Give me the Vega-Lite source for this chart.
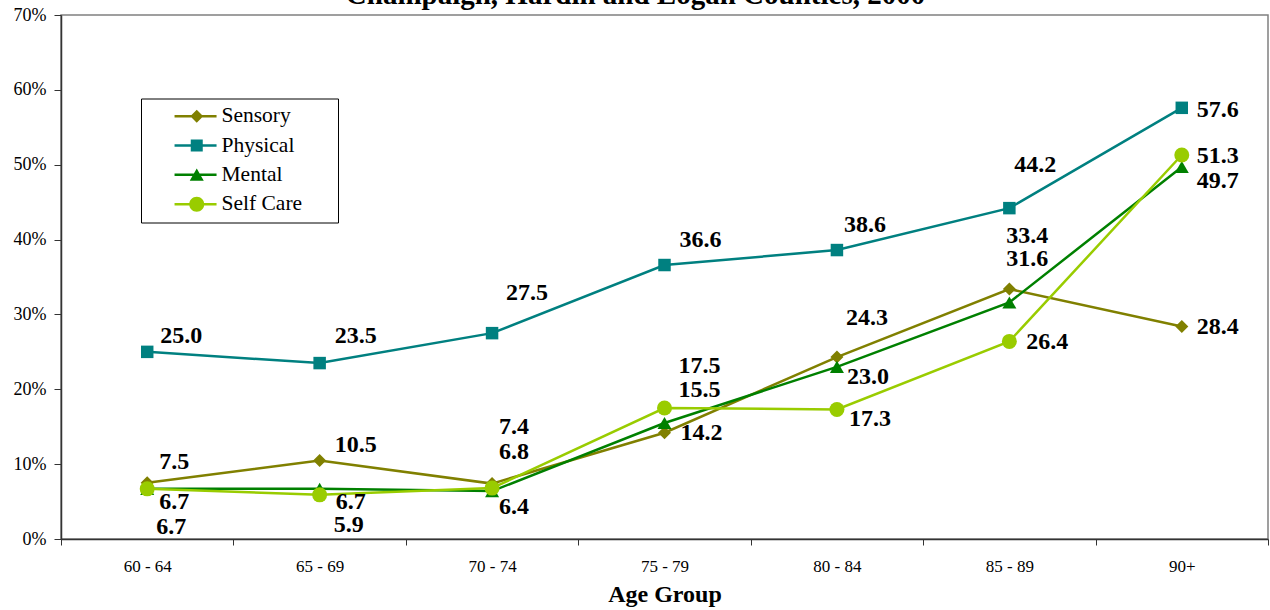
{
  "$schema": "https://vega.github.io/schema/vega-lite/v6.json",
  "autosize": {"type": "none"},
  "width": 1207,
  "height": 524,
  "padding": {"left": 61, "top": 15, "right": 2, "bottom": 71},
  "background": "white",
  "config": {
    "view": {"stroke": "#808080", "strokeWidth": 1.5},
    "axis": {"labelFont": "Liberation Serif", "labelColor": "black", "titleFont": "Liberation Serif", "titleColor": "black", "domainColor": "#333", "tickColor": "#333", "domainWidth": 1.5, "tickWidth": 1, "grid": false}
  },
  "data": {"values": [
    {"a": "60 - 64", "s": "Sensory", "v": 7.5},
    {"a": "65 - 69", "s": "Sensory", "v": 10.5},
    {"a": "70 - 74", "s": "Sensory", "v": 7.4},
    {"a": "75 - 79", "s": "Sensory", "v": 14.2},
    {"a": "80 - 84", "s": "Sensory", "v": 24.3},
    {"a": "85 - 89", "s": "Sensory", "v": 33.4},
    {"a": "90+", "s": "Sensory", "v": 28.4},
    {"a": "60 - 64", "s": "Physical", "v": 25.0},
    {"a": "65 - 69", "s": "Physical", "v": 23.5},
    {"a": "70 - 74", "s": "Physical", "v": 27.5},
    {"a": "75 - 79", "s": "Physical", "v": 36.6},
    {"a": "80 - 84", "s": "Physical", "v": 38.6},
    {"a": "85 - 89", "s": "Physical", "v": 44.2},
    {"a": "90+", "s": "Physical", "v": 57.6},
    {"a": "60 - 64", "s": "Mental", "v": 6.7},
    {"a": "65 - 69", "s": "Mental", "v": 6.7},
    {"a": "70 - 74", "s": "Mental", "v": 6.4},
    {"a": "75 - 79", "s": "Mental", "v": 15.5},
    {"a": "80 - 84", "s": "Mental", "v": 23.0},
    {"a": "85 - 89", "s": "Mental", "v": 31.6},
    {"a": "90+", "s": "Mental", "v": 49.7},
    {"a": "60 - 64", "s": "Self Care", "v": 6.7},
    {"a": "65 - 69", "s": "Self Care", "v": 5.9},
    {"a": "70 - 74", "s": "Self Care", "v": 6.8},
    {"a": "75 - 79", "s": "Self Care", "v": 17.5},
    {"a": "80 - 84", "s": "Self Care", "v": 17.3},
    {"a": "85 - 89", "s": "Self Care", "v": 26.4},
    {"a": "90+", "s": "Self Care", "v": 51.3}
  ]},
  "encoding": {
    "x": {"field": "a", "type": "nominal", "sort": ["60 - 64", "65 - 69", "70 - 74", "75 - 79", "80 - 84", "85 - 89", "90+"],
      "scale": {"type": "band", "paddingInner": 0, "paddingOuter": 0},
      "axis": {"title": "Age Group", "titleFontSize": 24, "titleFontWeight": "bold", "titlePadding": 8, "labelFontSize": 17, "labelAngle": 0, "tickBand": "extent", "tickSize": 6, "labelPadding": 13}},
    "y": {"field": "v", "type": "quantitative", "scale": {"domain": [0, 70], "nice": false},
      "axis": {"title": "Champaign, Hardin and Logan Counties, 2000", "titleAngle": 0, "titleX": 574, "titleY": -11.5, "titleAlign": "center", "titleBaseline": "alphabetic", "titleFontSize": 29, "titleFontWeight": "bold",
        "values": [0, 10, 20, 30, 40, 50, 60, 70], "labelExpr": "datum.value + '%'", "labelFontSize": 18, "tickSize": 7, "labelPadding": 8}}
  },
  "layer": [
    {"transform": [{"filter": "datum.s == 'Sensory'"}], "mark": {"type": "line", "color": "#808000", "strokeWidth": 2.5}},
    {"transform": [{"filter": "datum.s == 'Physical'"}], "mark": {"type": "line", "color": "#008080", "strokeWidth": 2.5}},
    {"transform": [{"filter": "datum.s == 'Mental'"}], "mark": {"type": "line", "color": "#008000", "strokeWidth": 2.5}},
    {"transform": [{"filter": "datum.s == 'Self Care'"}], "mark": {"type": "line", "color": "#99CC00", "strokeWidth": 2.5}},
    {"transform": [{"filter": "datum.s == 'Sensory'"}], "mark": {"type": "point", "shape": "diamond", "filled": true, "opacity": 1, "color": "#808000", "size": 169}},
    {"transform": [{"filter": "datum.s == 'Physical'"}], "mark": {"type": "point", "shape": "square", "filled": true, "opacity": 1, "color": "#008080", "size": 156}},
    {"transform": [{"filter": "datum.s == 'Mental'"}], "mark": {"type": "point", "shape": "triangle-up", "filled": true, "opacity": 1, "color": "#008000", "size": 196}},
    {"transform": [{"filter": "datum.s == 'Self Care'"}], "mark": {"type": "point", "shape": "circle", "filled": true, "opacity": 1, "color": "#99CC00", "size": 225}},
    {"mark": {"type": "point", "filled": true, "opacity": 0, "size": 144},
      "encoding": {
        "color": {"field": "s", "type": "nominal", "scale": {"domain": ["Sensory", "Physical", "Mental", "Self Care"], "range": ["#808000", "#008080", "#008000", "#99CC00"]},
          "legend": {"orient": "none", "legendX": 80, "legendY": 83.5, "title": "MM", "titleOrient": "right", "titleFontSize": 12, "titleColor": "rgba(0,0,0,0)", "titlePadding": 9, "padding": 7, "strokeColor": "#000", "fillColor": "#fff", "labelFont": "Liberation Serif", "labelFontSize": 21.5, "labelColor": "black", "symbolSize": 144, "symbolOffset": 38, "labelOffset": 14, "rowPadding": 6.3, "symbolOpacity": 1, "symbolStrokeWidth": 0}},
        "shape": {"field": "s", "type": "nominal", "scale": {"domain": ["Sensory", "Physical", "Mental", "Self Care"], "range": [
          "M-3.7,-0.21H3.3V0.21H-3.7Z M0,-1.08L1.08,0L0,1.08L-1.08,0Z",
          "M-3.7,-0.21H3.3V0.21H-3.7Z M-1,-1H1V1H-1Z",
          "M-3.7,-0.21H3.3V0.21H-3.7Z M0,-1.05L1.17,1H-1.17Z",
          "M-3.7,-0.21H3.3V0.21H-3.7Z M-1.25,0A1.25,1.25 0 1,1 1.25,0A1.25,1.25 0 1,1 -1.25,0Z"
        ]},
          "legend": {"orient": "none", "legendX": 80, "legendY": 83.5, "title": "MM", "titleOrient": "right", "titleFontSize": 12, "titleColor": "rgba(0,0,0,0)", "titlePadding": 9, "padding": 7, "strokeColor": "#000", "fillColor": "#fff", "labelFont": "Liberation Serif", "labelFontSize": 21.5, "labelColor": "black", "symbolSize": 144, "symbolOffset": 38, "labelOffset": 14, "rowPadding": 6.3, "symbolOpacity": 1, "symbolStrokeWidth": 0}}
      }},
    {"encoding": {"text": {"field": "v", "type": "quantitative", "format": ".1f"}},
      "layer": [
        {"transform": [{"filter": "datum.s == 'Physical' && datum.a == '60 - 64'"}], "mark": {"type": "text", "dx": 34, "dy": -16, "font": "Liberation Serif", "fontSize": 24, "fontWeight": "bold", "color": "black"}},
        {"transform": [{"filter": "datum.s == 'Physical' && datum.a == '65 - 69'"}], "mark": {"type": "text", "dx": 36, "dy": -27, "font": "Liberation Serif", "fontSize": 24, "fontWeight": "bold", "color": "black"}},
        {"transform": [{"filter": "datum.s == 'Physical' && datum.a == '70 - 74'"}], "mark": {"type": "text", "dx": 35, "dy": -40, "font": "Liberation Serif", "fontSize": 24, "fontWeight": "bold", "color": "black"}},
        {"transform": [{"filter": "datum.s == 'Physical' && datum.a == '75 - 79'"}], "mark": {"type": "text", "dx": 36, "dy": -25, "font": "Liberation Serif", "fontSize": 24, "fontWeight": "bold", "color": "black"}},
        {"transform": [{"filter": "datum.s == 'Physical' && datum.a == '80 - 84'"}], "mark": {"type": "text", "dx": 28, "dy": -25, "font": "Liberation Serif", "fontSize": 24, "fontWeight": "bold", "color": "black"}},
        {"transform": [{"filter": "datum.s == 'Physical' && datum.a == '85 - 89'"}], "mark": {"type": "text", "dx": 26, "dy": -43, "font": "Liberation Serif", "fontSize": 24, "fontWeight": "bold", "color": "black"}},
        {"transform": [{"filter": "datum.s == 'Physical' && datum.a == '90+'"}], "mark": {"type": "text", "dx": 36, "dy": 2, "font": "Liberation Serif", "fontSize": 24, "fontWeight": "bold", "color": "black"}},
        {"transform": [{"filter": "datum.s == 'Sensory' && datum.a == '60 - 64'"}], "mark": {"type": "text", "dx": 27, "dy": -21, "font": "Liberation Serif", "fontSize": 24, "fontWeight": "bold", "color": "black"}},
        {"transform": [{"filter": "datum.s == 'Sensory' && datum.a == '65 - 69'"}], "mark": {"type": "text", "dx": 36, "dy": -15, "font": "Liberation Serif", "fontSize": 24, "fontWeight": "bold", "color": "black"}},
        {"transform": [{"filter": "datum.s == 'Sensory' && datum.a == '70 - 74'"}], "mark": {"type": "text", "dx": 22, "dy": -57, "font": "Liberation Serif", "fontSize": 24, "fontWeight": "bold", "color": "black"}},
        {"transform": [{"filter": "datum.s == 'Sensory' && datum.a == '75 - 79'"}], "mark": {"type": "text", "dx": 37, "dy": 0, "font": "Liberation Serif", "fontSize": 24, "fontWeight": "bold", "color": "black"}},
        {"transform": [{"filter": "datum.s == 'Sensory' && datum.a == '80 - 84'"}], "mark": {"type": "text", "dx": 30, "dy": -39, "font": "Liberation Serif", "fontSize": 24, "fontWeight": "bold", "color": "black"}},
        {"transform": [{"filter": "datum.s == 'Sensory' && datum.a == '85 - 89'"}], "mark": {"type": "text", "dx": 18, "dy": -53, "font": "Liberation Serif", "fontSize": 24, "fontWeight": "bold", "color": "black"}},
        {"transform": [{"filter": "datum.s == 'Sensory' && datum.a == '90+'"}], "mark": {"type": "text", "dx": 36, "dy": 1, "font": "Liberation Serif", "fontSize": 24, "fontWeight": "bold", "color": "black"}},
        {"transform": [{"filter": "datum.s == 'Mental' && datum.a == '60 - 64'"}], "mark": {"type": "text", "dx": 27, "dy": 13, "font": "Liberation Serif", "fontSize": 24, "fontWeight": "bold", "color": "black"}},
        {"transform": [{"filter": "datum.s == 'Mental' && datum.a == '65 - 69'"}], "mark": {"type": "text", "dx": 31, "dy": 13, "font": "Liberation Serif", "fontSize": 24, "fontWeight": "bold", "color": "black"}},
        {"transform": [{"filter": "datum.s == 'Mental' && datum.a == '70 - 74'"}], "mark": {"type": "text", "dx": 22, "dy": 16, "font": "Liberation Serif", "fontSize": 24, "fontWeight": "bold", "color": "black"}},
        {"transform": [{"filter": "datum.s == 'Mental' && datum.a == '75 - 79'"}], "mark": {"type": "text", "dx": 35, "dy": -33, "font": "Liberation Serif", "fontSize": 24, "fontWeight": "bold", "color": "black"}},
        {"transform": [{"filter": "datum.s == 'Mental' && datum.a == '80 - 84'"}], "mark": {"type": "text", "dx": 31, "dy": 10, "font": "Liberation Serif", "fontSize": 24, "fontWeight": "bold", "color": "black"}},
        {"transform": [{"filter": "datum.s == 'Mental' && datum.a == '85 - 89'"}], "mark": {"type": "text", "dx": 18, "dy": -43, "font": "Liberation Serif", "fontSize": 24, "fontWeight": "bold", "color": "black"}},
        {"transform": [{"filter": "datum.s == 'Mental' && datum.a == '90+'"}], "mark": {"type": "text", "dx": 36, "dy": 14, "font": "Liberation Serif", "fontSize": 24, "fontWeight": "bold", "color": "black"}},
        {"transform": [{"filter": "datum.s == 'Self Care' && datum.a == '60 - 64'"}], "mark": {"type": "text", "dx": 24, "dy": 38, "font": "Liberation Serif", "fontSize": 24, "fontWeight": "bold", "color": "black"}},
        {"transform": [{"filter": "datum.s == 'Self Care' && datum.a == '65 - 69'"}], "mark": {"type": "text", "dx": 29, "dy": 30, "font": "Liberation Serif", "fontSize": 24, "fontWeight": "bold", "color": "black"}},
        {"transform": [{"filter": "datum.s == 'Self Care' && datum.a == '70 - 74'"}], "mark": {"type": "text", "dx": 22, "dy": -36, "font": "Liberation Serif", "fontSize": 24, "fontWeight": "bold", "color": "black"}},
        {"transform": [{"filter": "datum.s == 'Self Care' && datum.a == '75 - 79'"}], "mark": {"type": "text", "dx": 35, "dy": -42, "font": "Liberation Serif", "fontSize": 24, "fontWeight": "bold", "color": "black"}},
        {"transform": [{"filter": "datum.s == 'Self Care' && datum.a == '80 - 84'"}], "mark": {"type": "text", "dx": 33, "dy": 10, "font": "Liberation Serif", "fontSize": 24, "fontWeight": "bold", "color": "black"}},
        {"transform": [{"filter": "datum.s == 'Self Care' && datum.a == '85 - 89'"}], "mark": {"type": "text", "dx": 38, "dy": 1, "font": "Liberation Serif", "fontSize": 24, "fontWeight": "bold", "color": "black"}},
        {"transform": [{"filter": "datum.s == 'Self Care' && datum.a == '90+'"}], "mark": {"type": "text", "dx": 36, "dy": 1, "font": "Liberation Serif", "fontSize": 24, "fontWeight": "bold", "color": "black"}}
      ]}
  ]
}
